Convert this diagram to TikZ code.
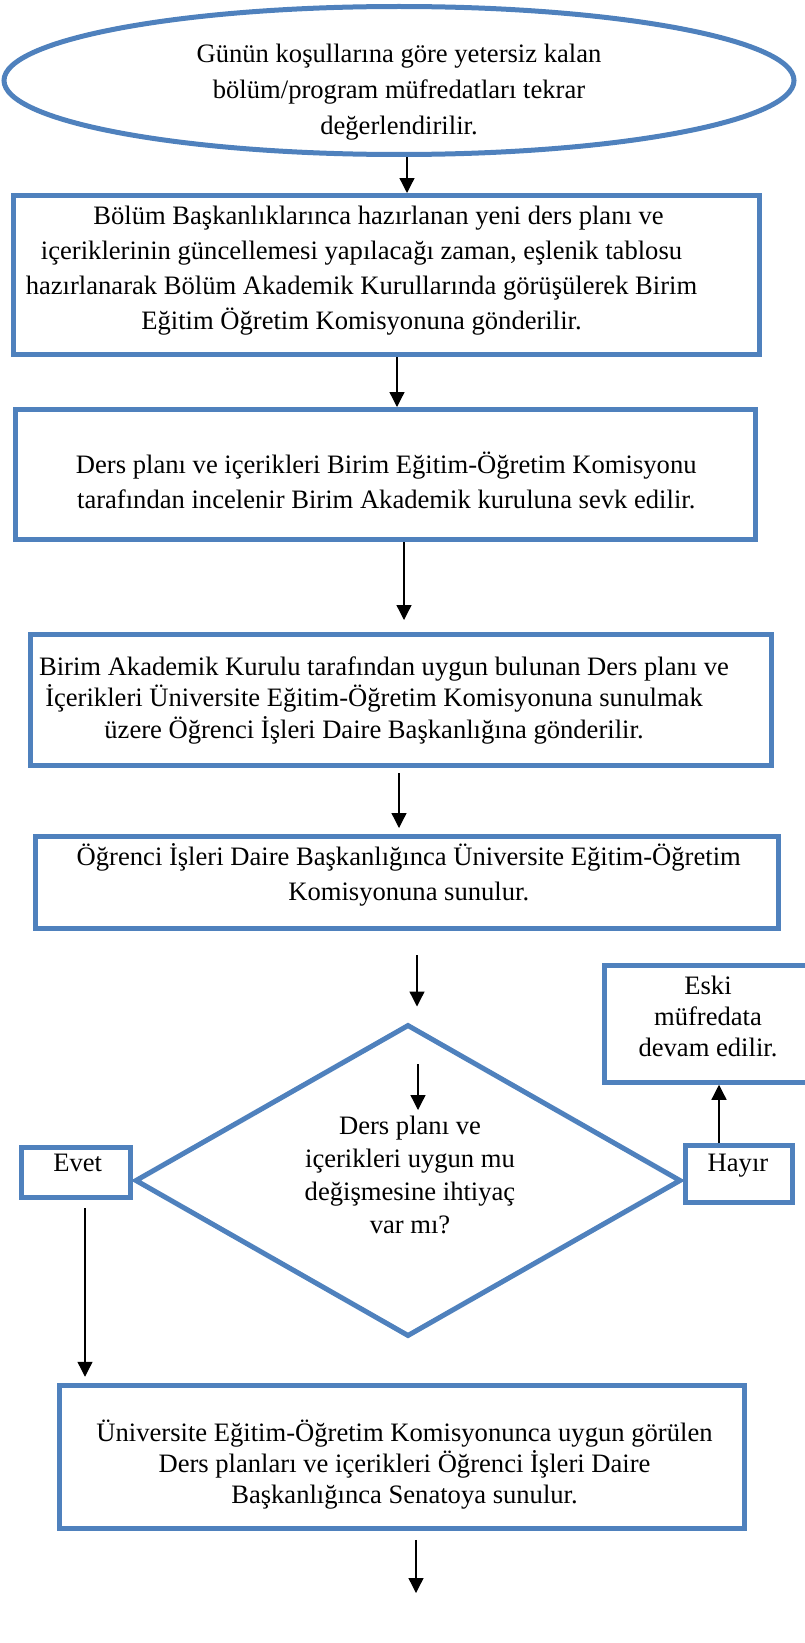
\documentclass[tikz,border=0pt]{standalone}
\usepackage{fontspec}
\setmainfont{Liberation Serif}
\usetikzlibrary{shapes.geometric,arrows.meta}
\definecolor{boxblue}{HTML}{4F81BD}
% text of a box: x offset, raise, lines
\newcommand{\flowtext}[3]{\raisebox{#2}[0pt][0pt]{\hspace*{#1}\begin{tabular}{@{}c@{}}#3\end{tabular}\hspace*{-#1}}}
\begin{document}
\begin{tikzpicture}[x=1pt,y=-1pt,
  blk/.style={draw=boxblue,line width=5pt,inner sep=0pt,font=\fontsize{26.6}{31}\selectfont},
  arr/.style={-{Triangle[length=15pt,width=15pt]},line width=1.3pt}]
\useasboundingbox (0,0) rectangle (804,1643);
\node[blk,ellipse,minimum width=790,minimum height=148,font=\fontsize{26.6}{36}\selectfont] (start) at (399,80.5)
  {\flowtext{0pt}{-17pt}{Günün koşullarına göre yetersiz kalan\\ bölüm/program müfredatları tekrar\\ değerlendirilir.}};
\node[blk,minimum width=746,minimum height=159,font=\fontsize{26.6}{35}\selectfont] (b1) at (386.5,275)
  {\flowtext{-25pt}{-1pt}{\hspace*{34pt}Bölüm Başkanlıklarınca hazırlanan yeni ders planı ve\\ içeriklerinin güncellemesi yapılacağı zaman, eşlenik tablosu\\ hazırlanarak Bölüm Akademik Kurullarında görüşülerek Birim\\ Eğitim Öğretim Komisyonuna gönderilir.}};
\node[blk,minimum width=739.5,minimum height=130,font=\fontsize{26.6}{35}\selectfont] (b2) at (385.25,474.5)
  {\flowtext{1pt}{-15.5pt}{Ders planı ve içerikleri Birim Eğitim-Öğretim Komisyonu\\ tarafından incelenir Birim Akademik kuruluna sevk edilir.}};
\node[blk,minimum width=741,minimum height=131,font=\fontsize{26.6}{31.6}\selectfont] (b3) at (400.5,699.5)
  {\flowtext{-26.5pt}{-7pt}{\hspace*{20pt}Birim Akademik Kurulu tarafından uygun bulunan Ders planı ve\\ İçerikleri Üniversite Eğitim-Öğretim Komisyonuna sunulmak\\ üzere Öğrenci İşleri Daire Başkanlığına gönderilir.}};
\node[blk,minimum width=743.5,minimum height=92,font=\fontsize{26.6}{35}\selectfont] (b4) at (406.75,882)
  {\flowtext{2pt}{0pt}{Öğrenci İşleri Daire Başkanlığınca Üniversite Eğitim-Öğretim\\ Komisyonuna sunulur.}};
\node[blk,diamond,minimum width=546,minimum height=312,font=\fontsize{26.6}{33}\selectfont] (dec) at (408,1180.5)
  {\flowtext{2pt}{-3.5pt}{Ders planı ve\\ içerikleri uygun mu\\ değişmesine ihtiyaç\\ var mı?}};
\node[blk,minimum width=109.5,minimum height=50] (yes) at (75.75,1172.5) {\flowtext{2pt}{1pt}{Evet}};
\node[blk,minimum width=107,minimum height=57] (no) at (739,1174) {\flowtext{-1pt}{2.5pt}{Hayır}};
\node[blk,minimum width=207,minimum height=116.5] (old) at (708,1024)
  {\flowtext{0pt}{-1.5pt}{Eski\\ müfredata\\ devam edilir.}};
\node[blk,minimum width=685.5,minimum height=142.5] (b5) at (402,1457)
  {\flowtext{2.5pt}{-15.5pt}{Üniversite Eğitim-Öğretim Komisyonunca uygun görülen\\ Ders planları ve içerikleri Öğrenci İşleri Daire\\ Başkanlığınca Senatoya sunulur.}};
\coordinate (qtop) at (418,1064);
\coordinate (qbot) at (418,1110);
\coordinate (fin) at (416,1593);
\draw[arr] ([xshift=8]start.south) -- ([xshift=8]start.south |- b1.north);
\draw[arr] ([xshift=10.5]b1.south) -- ([xshift=10.5]b1.south |- b2.north);
\draw[arr,shorten >=11.5pt] ([xshift=18.75]b2.south) -- ([xshift=18.75]b2.south |- b3.north);
\draw[arr,shorten <=5.5pt,shorten >=5.5pt] ([xshift=-1.5]b3.south) -- ([xshift=-1.5]b3.south |- b4.north);
\draw[arr,shorten <=24.5pt,shorten >=15.5pt] ([xshift=10.25]b4.south) -- ([xshift=10.25]b4.south |- dec.north);
\draw[arr] (qtop) -- (qbot);
\draw[arr] ([xshift=-20]no.north) -- ([xshift=-20]no.north |- old.south);
\draw[arr,shorten <=8pt,shorten >=6.5pt] ([xshift=9.25]yes.south) -- ([xshift=9.25]yes.south |- b5.north);
\draw[arr,shorten <=9pt] (b5.south -| fin) -- (fin);
\end{tikzpicture}
\end{document}
